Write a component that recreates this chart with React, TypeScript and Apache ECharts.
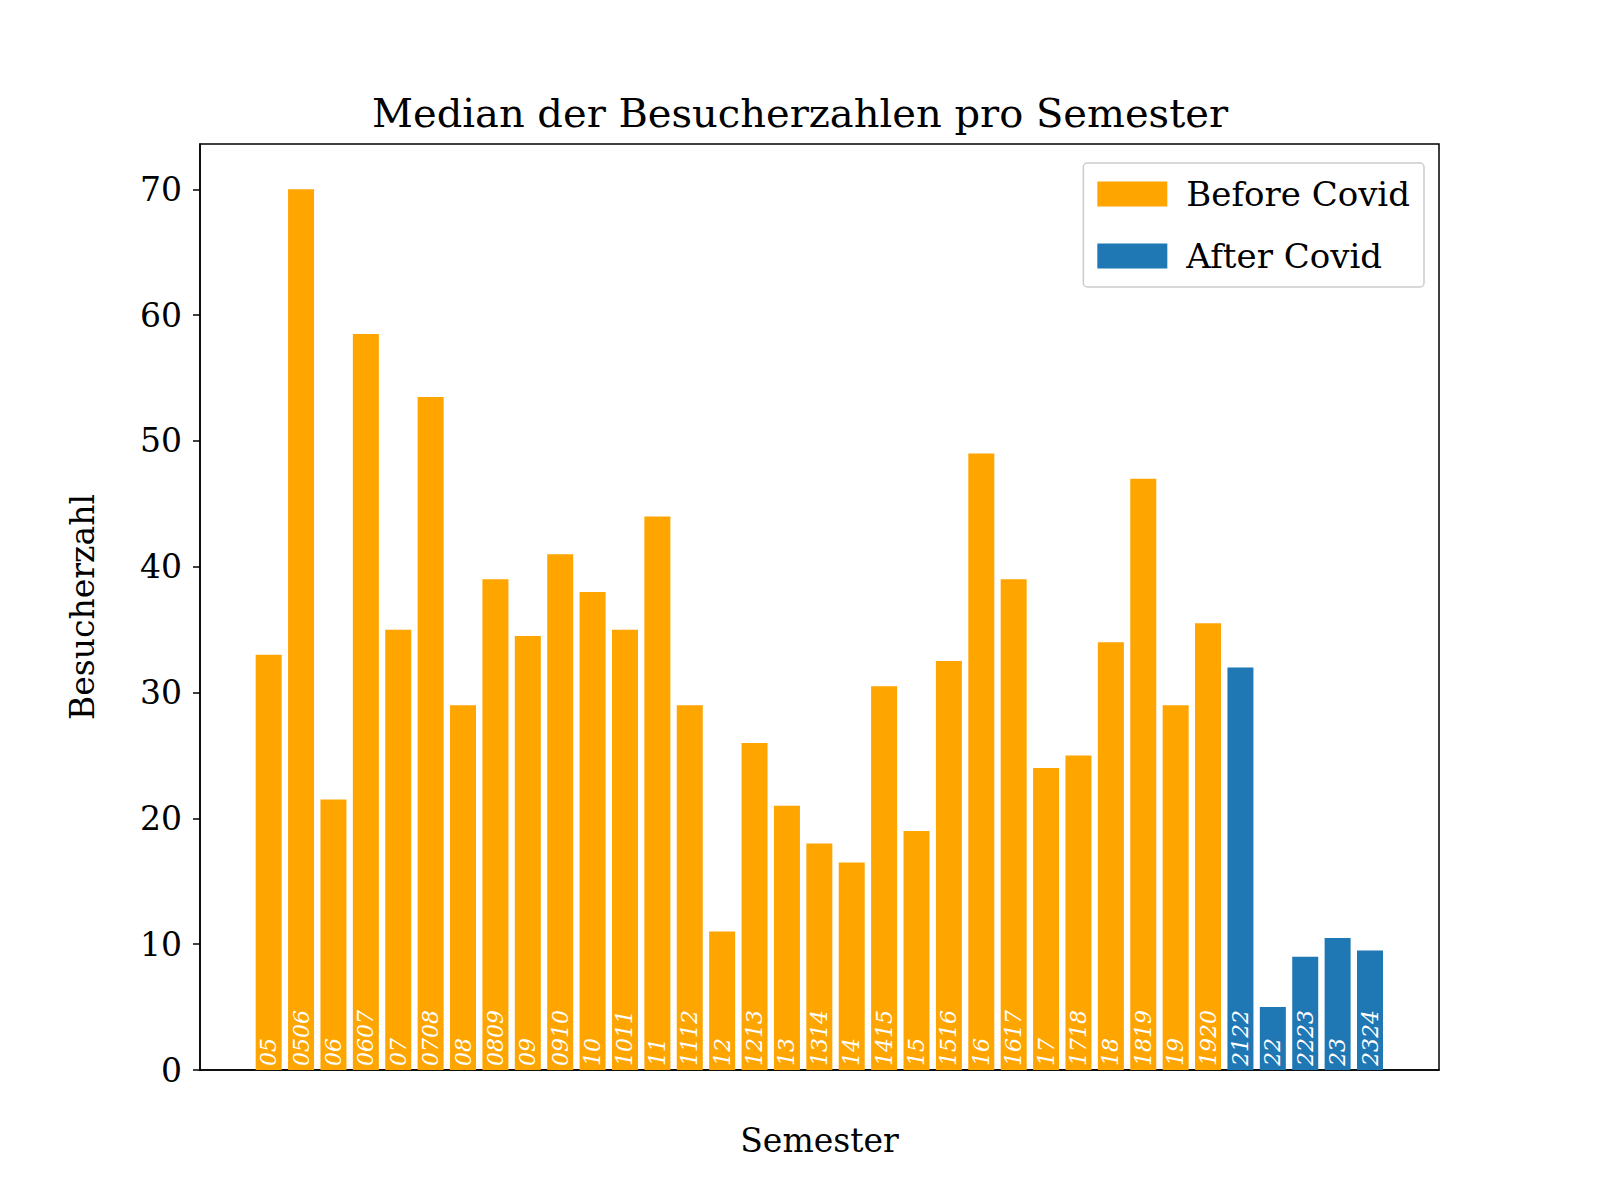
import * as echarts from "echarts";
import { useEffect, useRef } from "react";

const semesters = [
  "05", "0506", "06", "0607", "07", "0708", "08", "0809", "09", "0910",
  "10", "1011", "11", "1112", "12", "1213", "13", "1314", "14", "1415",
  "15", "1516", "16", "1617", "17", "1718", "18", "1819", "19", "1920",
  "2122", "22", "2223", "23", "2324",
];
const medians = [
  33, 70, 21.5, 58.5, 35, 53.5, 29, 39, 34.5, 41,
  38, 35, 44, 29, 11, 26, 21, 18, 16.5, 30.5,
  19, 32.5, 49, 39, 24, 25, 34, 47, 29, 35.5,
  32, 5, 9, 10.5, 9.5,
];
const covidStart = 30; // index of first "after covid" semester

const FONT = '"DejaVu Serif", serif';

export default function App() {
  const ref = useRef<HTMLDivElement>(null);

  useEffect(() => {
    document.body.style.margin = "0";
    const el = ref.current;
    if (!el) return;
    const chart = echarts.init(el, null, { renderer: "svg" });

    const toPoints = (from: number, to: number) =>
      medians.slice(from, to).map((v, i) => ({
        value: [from + i, v],
        label: { formatter: semesters[from + i] },
      }));

    const barLabel = {
      show: true,
      position: "insideBottom",
      rotate: 90,
      align: "left",
      verticalAlign: "middle",
      distance: 4,
      color: "#ffffff",
      fontStyle: "italic",
      fontSize: 22,
      fontFamily: FONT,
    };

    chart.setOption({
      animation: false,
      textStyle: { fontFamily: FONT },
      title: {
        text: "Median der Besucherzahlen pro Semester",
        left: "center",
        top: 88,
        textStyle: { fontFamily: FONT, fontSize: 40, fontWeight: "normal", color: "#000" },
      },
      legend: {
        right: 176,
        top: 163,
        orient: "vertical",
        itemWidth: 70,
        itemHeight: 25,
        itemGap: 28,
        padding: [14, 14, 14, 14],
        backgroundColor: "#fff",
        borderColor: "#cccccc",
        borderWidth: 1.5,
        borderRadius: 4,
        icon: "rect",
        textStyle: { fontFamily: FONT, fontSize: 34, color: "#000", padding: [0, 0, 0, 14] },
        data: ["Before Covid", "After Covid"],
      },
      grid: {
        left: 200,
        right: 161,
        top: 144,
        bottom: 130,
        show: true,
        borderColor: "#000",
        borderWidth: 1.5,
      },
      xAxis: {
        type: "value",
        min: -2.12,
        max: 36.13,
        name: "Semester",
        nameLocation: "middle",
        nameGap: 54,
        nameTextStyle: { fontFamily: FONT, fontSize: 33, color: "#000" },
        axisLine: { show: true, lineStyle: { color: "#000", width: 1.5 } },
        axisTick: { show: false },
        axisLabel: { show: false },
        splitLine: { show: false },
      },
      yAxis: {
        type: "value",
        min: 0,
        max: 73.6,
        interval: 10,
        name: "Besucherzahl",
        nameLocation: "middle",
        nameGap: 101,
        nameTextStyle: { fontFamily: FONT, fontSize: 33, color: "#000" },
        axisLine: { show: true, onZero: false, lineStyle: { color: "#000", width: 1.5 } },
        axisTick: { show: true, inside: false, length: 7, lineStyle: { color: "#000", width: 1.5 } },
        axisLabel: {
          fontFamily: FONT,
          fontSize: 33,
          color: "#000",
          margin: 18,
          showMaxLabel: false,
        },
        splitLine: { show: false },
      },
      series: [
        {
          name: "Before Covid",
          type: "bar",
          barWidth: 26,
          barGap: "-100%",
          itemStyle: { color: "#ffa500" },
          label: barLabel,
          data: toPoints(0, covidStart),
        },
        {
          name: "After Covid",
          type: "bar",
          barWidth: 26,
          barGap: "-100%",
          itemStyle: { color: "#1f77b4" },
          label: barLabel,
          data: toPoints(covidStart, medians.length),
        },
      ],
    });
    return () => chart.dispose();
  }, []);

  return <div ref={ref} style={{ width: 1600, height: 1200, background: "#fff" }} />;
}
